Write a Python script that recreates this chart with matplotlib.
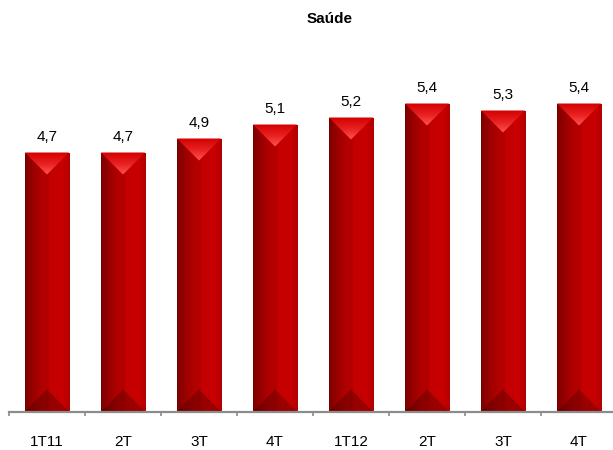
import numpy as np
import matplotlib
matplotlib.use('Agg')
import matplotlib.pyplot as plt
from matplotlib.patches import Polygon, Rectangle
from matplotlib.colors import LinearSegmentedColormap

categories = ['1T11', '2T', '3T', '4T', '1T12', '2T', '3T', '4T']
values = [4.7, 4.7, 4.9, 5.1, 5.2, 5.4, 5.3, 5.4]
title = 'Saúde'

plt.rcParams['font.family'] = ['Liberation Sans', 'DejaVu Sans']

W, H = 613, 450
fig = plt.figure(figsize=(W / 100, H / 100), dpi=100)
ax = fig.add_axes([9 / W, 38.5 / H, 608 / W, 350 / H])
YMIN, YMAX = 1.0, 6.0
bw = 0.58
ppx = 608 / 8
ppy = 350 / (YMAX - YMIN)
depth = bw * ppx / 2 / ppy

body_cmap = LinearSegmentedColormap.from_list('body', [
    (0.0, '#780000'), (0.15, '#960000'), (0.42, '#b60000'), (0.5, '#ae0000'),
    (0.56, '#c40000'), (0.85, '#c80000'), (1.0, '#b00000')])
top_cmap = LinearSegmentedColormap.from_list('top', [
    (0.0, '#d20000'), (0.5, '#e82020'), (1.0, '#ff5555')])
grad_h = np.linspace(0, 1, 256).reshape(1, -1)
grad_v = np.linspace(0, 1, 256).reshape(-1, 1)

for i, v in enumerate(values):
    x0, x1 = i - bw / 2, i + bw / 2
    y0, y1 = YMIN, v
    rect = Rectangle((x0, y0), bw, y1 - y0, facecolor='none', edgecolor='none')
    ax.add_patch(rect)
    im = ax.imshow(grad_h, cmap=body_cmap, extent=[x0, x1, y0, y1],
                   aspect='auto', interpolation='bilinear', zorder=2)
    im.set_clip_path(rect)
    tri = Polygon([(x0, y1), (x1, y1), (i, y1 - depth)], closed=True,
                  facecolor='none', edgecolor='none')
    ax.add_patch(tri)
    im2 = ax.imshow(grad_v, cmap=top_cmap, extent=[x0, x1, y1 - depth, y1],
                    aspect='auto', origin='upper', interpolation='bilinear', zorder=3)
    im2.set_clip_path(tri)
    btri = Polygon([(x0, y0), (x1, y0), (i, y0 + depth)], closed=True,
                   facecolor='black', alpha=0.22, edgecolor='none', zorder=3)
    ax.add_patch(btri)
    ax.annotate(f'{v:.1f}'.replace('.', ','), (i, v), xytext=(0, 8.6),
                textcoords='offset points', ha='center', va='baseline',
                fontsize=11, color='black')

ax.set_xlim(-0.5, len(values) - 0.5)
ax.set_ylim(YMIN, YMAX)
for s in ['top', 'right', 'left']:
    ax.spines[s].set_visible(False)
ax.spines['bottom'].set_color('#8c8c8c')
ax.spines['bottom'].set_linewidth(1.6)
ax.spines['bottom'].set_zorder(5)
ax.set_yticks([])
ax.set_xticks(range(len(categories)))
ax.set_xticklabels(categories, fontsize=11)
ax.set_xticks(np.arange(-0.5, len(values) + 0.5, 1.0), minor=True)
ax.tick_params(axis='x', which='major', length=0, pad=17)
ax.tick_params(axis='x', which='minor', length=3, width=1.2, color='#8c8c8c', direction='out')

fig.text(329.5 / W, 1 - 19 / H, title, ha='center', va='center',
         fontsize=11, fontweight='bold')

fig.savefig('out.png', dpi=100)
